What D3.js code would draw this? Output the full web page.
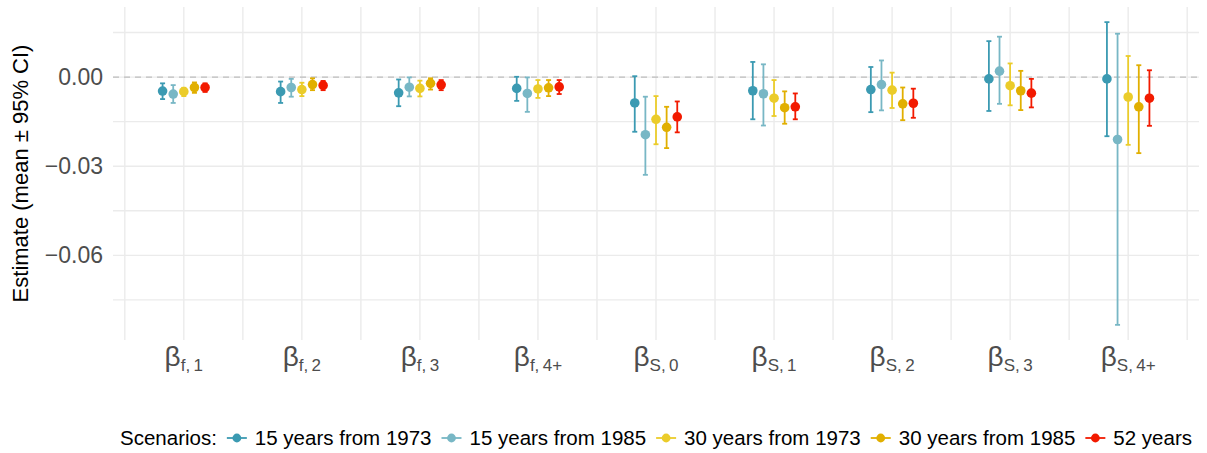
<!DOCTYPE html>
<html>
<head>
  <meta charset="utf-8">
  <title>Scenario estimates</title>
  <script src="https://d3js.org/d3.v7.min.js"></script>
  <style>
    body { margin: 0; background: #fff; }
    svg { font-family: "Liberation Sans", Arial, sans-serif; }
  </style>
</head>
<body>
  <svg width="1207" height="453"></svg>

  <script>
    // categories: [main subscript]
    const categories = ["f,1", "f,2", "f,3", "f,4+", "S,0", "S,1", "S,2", "S,3", "S,4+"];

    const scenarioNames = ["15 years from 1973", "15 years from 1985", "30 years from 1973", "30 years from 1985", "52 years"];
    const scenarioColors = ["#3B9AB2", "#78B7C5", "#EBCC2A", "#E1AF00", "#F21A00"];

    const mean15_1973 = [-0.0047, -0.0049, -0.0053, -0.0038, -0.0087, -0.0046, -0.0042, -0.0006, -0.0006];
    const lo15_1973   = [-0.0074, -0.0087, -0.0098, -0.0080, -0.0184, -0.0142, -0.0118, -0.0114, -0.0199];
    const hi15_1973   = [-0.0021, -0.0015, -0.0008,  0.0001,  0.0003,  0.0051,  0.0034,  0.0121,  0.0185];

    const mean15_1985 = [-0.0057, -0.0035, -0.0034, -0.0055, -0.0194, -0.0056, -0.0025,  0.0020, -0.0210];
    const lo15_1985   = [-0.0087, -0.0066, -0.0065, -0.0117, -0.0329, -0.0163, -0.0112, -0.0090, -0.0834];
    const hi15_1985   = [-0.0027, -0.0006, -0.0001, -0.0001, -0.0066,  0.0043,  0.0056,  0.0136,  0.0146];

    const mean30_1973 = [-0.0049, -0.0042, -0.0038, -0.0040, -0.0142, -0.0071, -0.0044, -0.0029, -0.0067];
    const lo30_1973   = [-0.0064, -0.0064, -0.0065, -0.0070, -0.0226, -0.0131, -0.0104, -0.0095, -0.0228];
    const hi30_1973   = [-0.0036, -0.0019, -0.0012, -0.0010, -0.0064, -0.0010,  0.0015,  0.0046,  0.0071];

    const mean30_1985 = [-0.0035, -0.0025, -0.0021, -0.0036, -0.0169, -0.0103, -0.0090, -0.0046, -0.0100];
    const lo30_1985   = [-0.0053, -0.0044, -0.0042, -0.0064, -0.0239, -0.0157, -0.0145, -0.0111, -0.0256];
    const hi30_1985   = [-0.0018, -0.0004, -0.0004, -0.0010, -0.0100, -0.0048, -0.0035,  0.0021,  0.0040];

    const mean52 = [-0.0035, -0.0028, -0.0026, -0.0033, -0.0134, -0.0100, -0.0088, -0.0054, -0.0071];
    const lo52   = [-0.0050, -0.0044, -0.0044, -0.0057, -0.0186, -0.0142, -0.0137, -0.0102, -0.0164];
    const hi52   = [-0.0021, -0.0013, -0.0010, -0.0010, -0.0082, -0.0055, -0.0039, -0.0006,  0.0023];

    const yTicks = [0, -0.03, -0.06];
    const yMinorTicks = [0.015, -0.015, -0.045, -0.075];

    const seriesMeans = [mean15_1973, mean15_1985, mean30_1973, mean30_1985, mean52];
    const seriesLo = [lo15_1973, lo15_1985, lo30_1973, lo30_1985, lo52];
    const seriesHi = [hi15_1973, hi15_1985, hi30_1973, hi30_1985, hi52];

    const rows = [];
    scenarioNames.forEach((s, i) => {
      categories.forEach((c, j) => {
        rows.push({ s: i, cat: c, mean: seriesMeans[i][j], lo: seriesLo[i][j], hi: seriesHi[i][j] });
      });
    });

    const svg = d3.select("svg");
    const panel = { left: 113, right: 1199, top: 7, bottom: 340 };

    const x = d3.scalePoint()
      .domain(categories)
      .range([panel.left, panel.right])
      .padding(0.6);
    const step = x.step();
    const dodge = 0.09 * step;

    const lo = d3.min(rows, d => d.lo), hi = d3.max(rows, d => d.hi);
    const pad = (hi - lo) * 0.05;
    const y = d3.scaleLinear()
      .domain([lo - pad, hi + pad])
      .range([panel.bottom, panel.top]);

    // grid
    const grid = svg.append("g");
    const xGrid = categories.map(c => x(c)).concat(categories.map(c => x(c) - step / 2), [x(categories[categories.length - 1]) + step / 2]);
    grid.selectAll("line.vx").data(xGrid).join("line")
      .attr("x1", d => d).attr("x2", d => d)
      .attr("y1", panel.top).attr("y2", panel.bottom)
      .attr("stroke", "#EBEBEB").attr("stroke-width", 1.4);
    grid.selectAll("line.hy").data(yTicks.concat(yMinorTicks)).join("line")
      .attr("x1", panel.left).attr("x2", panel.right)
      .attr("y1", d => y(d)).attr("y2", d => y(d))
      .attr("stroke", "#EBEBEB").attr("stroke-width", 1.4);

    // zero reference
    svg.append("line")
      .attr("x1", panel.left).attr("x2", panel.right)
      .attr("y1", y(0)).attr("y2", y(0))
      .attr("stroke", "#BDBDBD").attr("stroke-width", 1.2)
      .attr("stroke-dasharray", "6,5");

    // y axis labels
    const yAxis = svg.append("g")
      .attr("transform", `translate(${panel.left - 10},0)`)
      .call(d3.axisLeft(y).tickValues(yTicks).tickSize(0).tickPadding(0)
        .tickFormat(d3.format(".2f")));
    yAxis.select(".domain").remove();
    yAxis.selectAll("text")
      .attr("font-size", 23).attr("fill", "#4D4D4D")
      .attr("font-family", "'Liberation Sans', Arial, sans-serif");

    svg.append("text")
      .attr("transform", `translate(28,${(panel.top + panel.bottom) / 2}) rotate(-90)`)
      .attr("text-anchor", "middle")
      .attr("font-size", 22).attr("fill", "#000")
      .text("Estimate (mean \u00B1 95% CI)");

    // x labels: beta with subscript
    const xl = svg.append("g").selectAll("text").data(categories).join("text")
      .attr("x", d => x(d)).attr("y", 366)
      .attr("text-anchor", "middle")
      .attr("fill", "#4D4D4D");
    xl.append("tspan").attr("font-size", 28).text("\u03B2");
    xl.append("tspan").attr("font-size", 17).attr("dy", 5)
      .text(d => d.replace(",", ",\u2009"));

    // error bars and points
    const px = d => x(d.cat) + (d.s - 2) * dodge;
    const bars = svg.append("g").selectAll("g").data(rows).join("g")
      .attr("stroke", d => scenarioColors[d.s]).attr("stroke-width", 1.8);
    bars.append("line")
      .attr("x1", px).attr("x2", px)
      .attr("y1", d => y(d.lo)).attr("y2", d => y(d.hi));
    bars.append("line")
      .attr("x1", d => px(d) - 2.5).attr("x2", d => px(d) + 2.5)
      .attr("y1", d => y(d.lo)).attr("y2", d => y(d.lo));
    bars.append("line")
      .attr("x1", d => px(d) - 2.5).attr("x2", d => px(d) + 2.5)
      .attr("y1", d => y(d.hi)).attr("y2", d => y(d.hi));

    svg.append("g").selectAll("circle").data(rows).join("circle")
      .attr("cx", px).attr("cy", d => y(d.mean))
      .attr("r", 4.8)
      .attr("fill", d => scenarioColors[d.s]);

    // legend
    const legend = svg.append("g");
    let cx = 0;
    legend.append("text").attr("x", 0).attr("y", 0).attr("dy", "0.35em")
      .attr("font-size", 20.5).text("Scenarios:")
      .each(function () { cx = this.getComputedTextLength() + 10; });
    scenarioNames.forEach((name, i) => {
      legend.append("line")
        .attr("x1", cx).attr("x2", cx + 20).attr("y1", 0).attr("y2", 0)
        .attr("stroke", scenarioColors[i]).attr("stroke-width", 1.8);
      legend.append("circle").attr("cx", cx + 10).attr("cy", 0).attr("r", 4.4)
        .attr("fill", scenarioColors[i]);
      cx += 28;
      legend.append("text").attr("x", cx).attr("y", 0).attr("dy", "0.35em")
        .attr("font-size", 20.5).text(name)
        .each(function () { cx += this.getComputedTextLength() + 10; });
    });
    const legendWidth = cx - 10;
    legend.attr("transform", `translate(${(panel.left + panel.right) / 2 - legendWidth / 2},438)`);
  </script>
</body>
</html>
